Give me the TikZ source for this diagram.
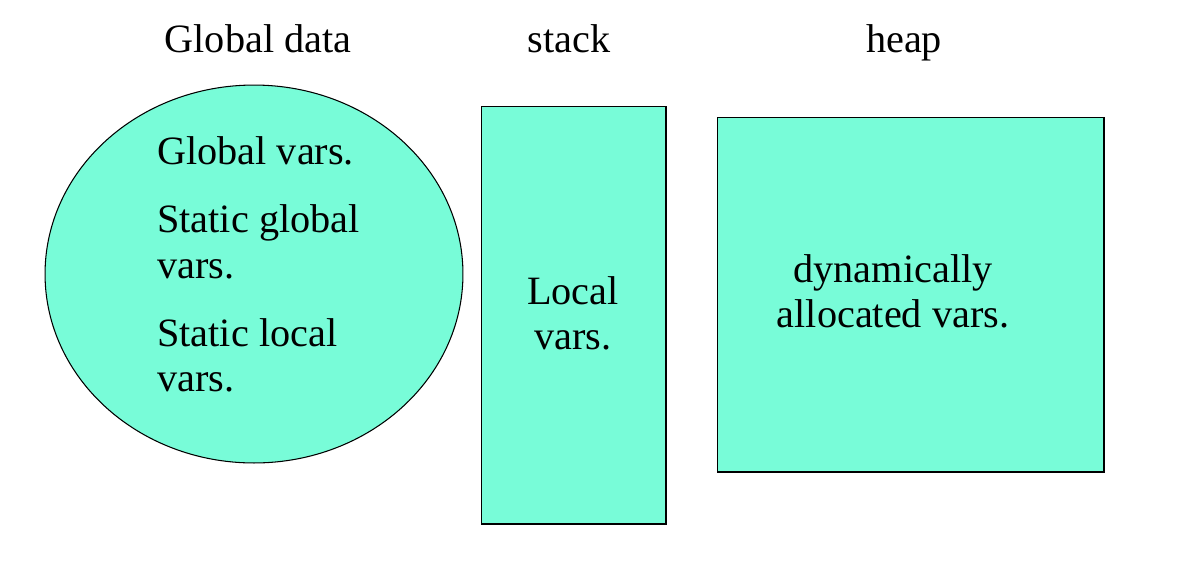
\documentclass[tikz,border=0pt]{standalone}
\usepackage{fontspec}
\setmainfont{Liberation Serif}
\usepackage{tikz}
\usetikzlibrary{shapes.geometric,positioning}
\definecolor{MemFill}{HTML}{78FCD8}

\begin{document}
\begin{tikzpicture}[x=0.02cm,y=-0.02cm,font=\fontsize{22.9}{25}\selectfont]
\tikzset{area/.style={draw=black,line width=0.6pt,fill=MemFill,inner sep=0pt}}
\useasboundingbox (0,0) rectangle (1202,562);
\node[area,ellipse,minimum width=8.36cm,minimum height=7.56cm] (glob) at (254,274) {};
\node[area,rectangle,minimum width=3.7cm,minimum height=8.36cm] (stk) at (573.5,315) {};
\node[area,rectangle,minimum width=7.74cm,minimum height=7.1cm] (hp) at (910.5,294.5) {};
\node[anchor=base] (tglob) at (258,52) {Global data};
\node[anchor=base] (tstk) at (569,52) {stack};
\node[anchor=base] (thp) at (904,52) {heap};
\node[anchor=base west,inner sep=0pt] (gv1) at (157,164) {Global vars.};
\node[anchor=base west,inner sep=0pt] (sg1) at (157,232) {Static global};
\node[anchor=base west,inner sep=0pt] (sg2) at (157,278) {vars.};
\node[anchor=base west,inner sep=0pt] (sl1) at (157,346) {Static local};
\node[anchor=base west,inner sep=0pt] (sl2) at (157,391) {vars.};
\node[anchor=base] (lv1) at (573,304) {Local};
\node[anchor=base] (lv2) at (573,349) {vars.};
\node[anchor=base] (dv1) at (893,282) {dynamically};
\node[anchor=base] (dv2) at (893,327) {allocated vars.};
\end{tikzpicture}
\end{document}
